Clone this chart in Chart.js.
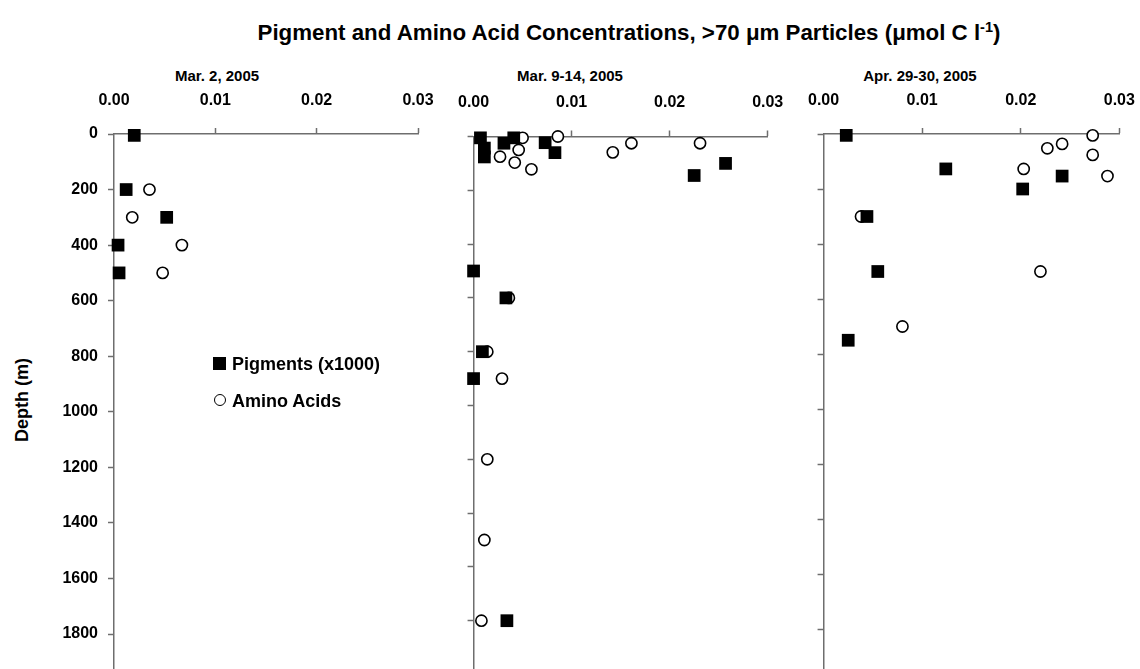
<!DOCTYPE html>
<html>
<head>
<meta charset="utf-8">
<title>Pigment and Amino Acid Concentrations</title>
<script src="https://cdn.jsdelivr.net/npm/chart.js@4.4.0/dist/chart.umd.min.js"></script>
<style>
body { margin: 0; width: 1140px; height: 669px; overflow: hidden; background: #fff; position: relative;
       font-family: Arial, "Liberation Sans", sans-serif; font-weight: bold; color: #000; }
canvas { position: absolute; }
.txt { position: absolute; white-space: nowrap; transform: translate(-50%, -50%); }
.txt sup { font-size: 0.65em; vertical-align: 0.55em; line-height: 0; }
</style>
</head>
<body>

<div class="txt" style="left:629px; top:33px; font-size:22.3px;">Pigment and Amino Acid Concentrations, &gt;70 μm Particles (μmol C l<sup>-1</sup>)</div>
<div class="txt" style="left:217px; top:75px; font-size:15px;">Mar. 2, 2005</div>
<div class="txt" style="left:570px; top:75px; font-size:15px;">Mar. 9-14, 2005</div>
<div class="txt" style="left:920px; top:75px; font-size:15px;">Apr. 29-30, 2005</div>
<div class="txt" style="left:22px; top:400px; font-size:18px; transform: translate(-50%, -50%) rotate(-90deg);">Depth (m)</div>

<canvas id="panel1" width="470" height="720" style="left:0px; top:0px;"></canvas>
<canvas id="panel2" width="380" height="710" style="left:440px; top:0px;"></canvas>
<canvas id="panel3" width="390" height="720" style="left:790px; top:0px;"></canvas>

<!-- leyenda -->
<div style="position:absolute; left:213px; top:357px; width:13px; height:13px; background:#000;"></div>
<div class="txt" style="left:232px; top:364px; transform: translate(0, -50%); font-size:18px;">Pigments (x1000)</div>
<div style="position:absolute; left:214px; top:394px; width:10px; height:10px; border:1.6px solid #000; border-radius:50%; background:#fff;"></div>
<div class="txt" style="left:232px; top:401px; transform: translate(0, -50%); font-size:18px;">Amino Acids</div>

<script>
// ticks
var tick_x = [0, 0.01, 0.02, 0.03];
var tick_depth = [0, 200, 400, 600, 800, 1000, 1200, 1400, 1600, 1800, 2000];

// Mar. 2, 2005
var pig1_x = [0.0020, 0.0012, 0.0052, 0.0004, 0.0005];
var pig1_depth = [5, 200, 300, 400, 500];
var amino1_x = [0.0035, 0.0018, 0.0067, 0.0048];
var amino1_depth = [200, 300, 400, 500];

// Mar. 9-14, 2005
var pig2_x = [0.0007, 0.0011, 0.0011, 0.0031, 0.0041, 0.0073, 0.0083, 0.0225, 0.0257, 0.0000, 0.0033, 0.0009, 0.0000, 0.0034];
var pig2_depth = [5, 43, 76, 25, 5, 23, 60, 145, 100, 500, 600, 800, 900, 1800];
var amino2_x = [0.0050, 0.0086, 0.0027, 0.0046, 0.0042, 0.0059, 0.0142, 0.0161, 0.0231, 0.0036, 0.0014, 0.0029, 0.0014, 0.0011, 0.0008];
var amino2_depth = [5, 0, 75, 50, 97, 122, 59, 25, 25, 600, 800, 900, 1200, 1500, 1800];

// Apr. 29-30, 2005
var pig3_x = [0.0023, 0.0124, 0.0202, 0.0242, 0.0044, 0.0055, 0.0025];
var pig3_depth = [5, 127, 200, 153, 300, 500, 750];
var amino3_x = [0.0273, 0.0227, 0.0242, 0.0273, 0.0203, 0.0288, 0.0038, 0.0220, 0.0080];
var amino3_depth = [5, 52, 36, 76, 127, 153, 300, 500, 700];

var gris = '#6e6e6e';
Chart.defaults.font.family = 'Arial, "Liberation Sans", sans-serif';
Chart.defaults.font.weight = 'bold';
Chart.defaults.font.size = 16;
Chart.defaults.color = '#000';

function puntos(xs, ys) {
    var lista = [];
    for (var i = 0; i < xs.length; i++) {
        lista.push({ x: xs[i], y: ys[i] });
    }
    return lista;
}

// p: ancho del eje y, alto del eje x, padding derecha / abajo, etiquetas de profundidad
function grafica(id, pig_x, pig_depth, amino_x, amino_depth, p) {
    var ctx = document.getElementById(id);
    return new Chart(ctx, {
        type: 'scatter',
        data: {
            datasets: [
                {
                    label: 'Pigments (x1000)',
                    data: puntos(pig_x, pig_depth),
                    pointStyle: 'rect',
                    pointRadius: 9,
                    pointHoverRadius: 9,
                    backgroundColor: '#000',
                    borderWidth: 0,
                    clip: false
                }, {
                    label: 'Amino Acids',
                    data: puntos(amino_x, amino_depth),
                    pointStyle: 'circle',
                    pointRadius: 5.6,
                    pointHoverRadius: 5.6,
                    backgroundColor: '#fff',
                    borderColor: '#000',
                    borderWidth: 1.6,
                    clip: false
                }
            ]
        },
        options: {
            responsive: false,
            animation: false,
            layout: { padding: { left: 0, top: 0, right: p.right, bottom: p.bottom } },
            plugins: {
                legend: { display: false },
                tooltip: { enabled: false }
            },
            scales: {
                x: {
                    type: 'linear',
                    position: 'top',
                    min: 0,
                    max: 0.03,
                    afterBuildTicks: function (scale) {
                        scale.ticks = tick_x.map(function (v) { return { value: v }; });
                    },
                    afterFit: function (scale) { scale.height = p.top; },
                    ticks: {
                        padding: 18,
                        maxRotation: 0,
                        callback: function (v) { return v.toFixed(2); }
                    },
                    grid: {
                        drawOnChartArea: false,
                        tickLength: 6,
                        tickWidth: 1.5,
                        tickColor: function (c) { return c.tick && c.tick.value === 0 ? 'rgba(0,0,0,0)' : gris; }
                    },
                    border: { display: true, color: gris, width: 1.5 }
                },
                y: {
                    type: 'linear',
                    reverse: true,
                    min: 0,
                    max: 2000,
                    afterBuildTicks: function (scale) {
                        scale.ticks = tick_depth.map(function (v) { return { value: v }; });
                    },
                    afterFit: function (scale) { scale.width = p.left; },
                    ticks: {
                        display: p.labels,
                        padding: 10,
                        callback: function (v) { return String(v); }
                    },
                    grid: {
                        drawOnChartArea: false,
                        tickLength: 6,
                        tickWidth: 1.5,
                        tickColor: gris
                    },
                    border: { display: true, color: gris, width: 1.5 }
                }
            }
        }
    });
}

grafica('panel1', pig1_x, pig1_depth, amino1_x, amino1_depth, { left: 114, top: 134, right: 52, bottom: 30.4, labels: true });
grafica('panel2', pig2_x, pig2_depth, amino2_x, amino2_depth, { left: 31, top: 136.5, right: 52.3, bottom: 35.5, labels: false });
grafica('panel3', pig3_x, pig3_depth, amino3_x, amino3_depth, { left: 33.3, top: 134, right: 60.7, bottom: 36, labels: false });
</script>
</body>
</html>
